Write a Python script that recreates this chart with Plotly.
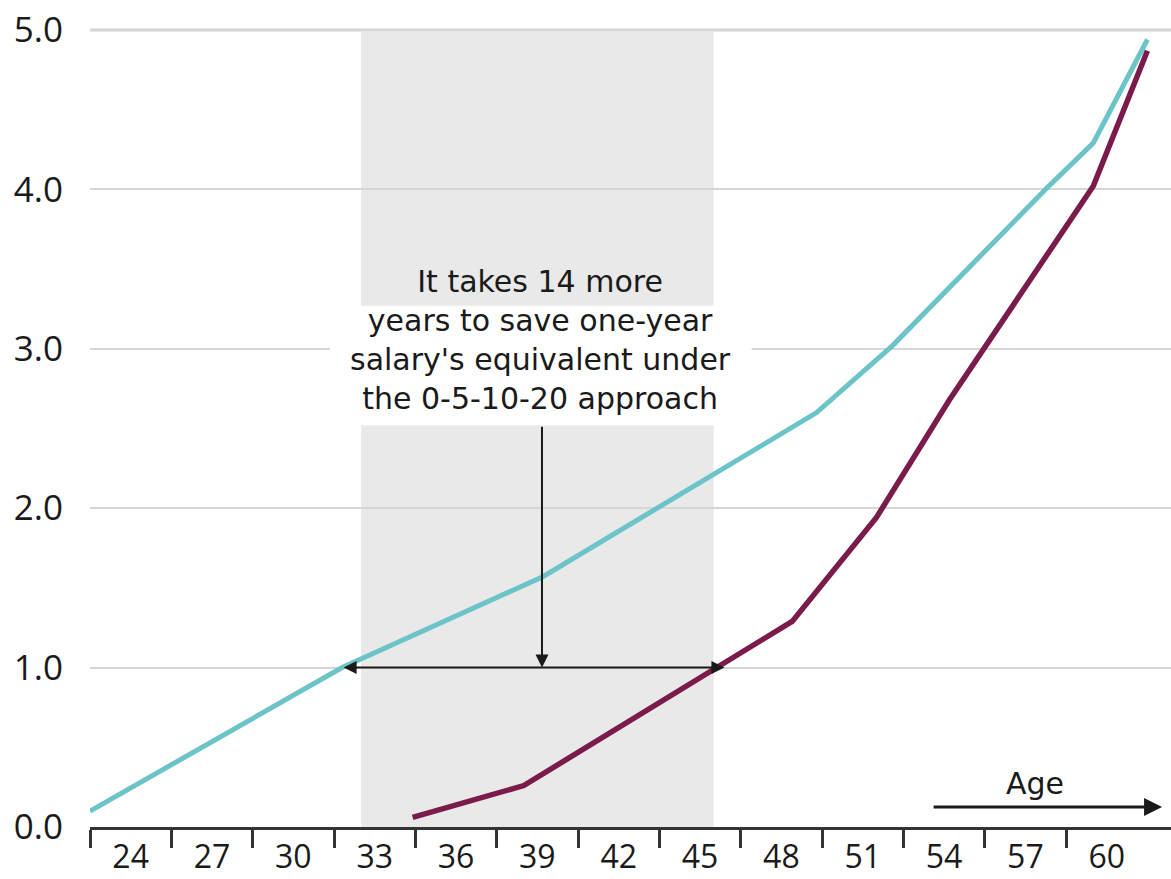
import plotly.graph_objects as go

# Savings as a multiple of annual salary, by age
steady_age = [22.5, 31.8, 39.2, 49.3, 52.1, 57.8, 59.5, 61.5]
steady_val = [0.10, 1.00, 1.57, 2.60, 3.02, 4.01, 4.29, 4.94]

stepped_age = [34.4, 38.5, 48.4, 51.5, 54.2, 59.5, 61.5]
stepped_val = [0.06, 0.26, 1.29, 1.94, 2.68, 4.02, 4.87]

tick_ages = [24, 27, 30, 33, 36, 39, 42, 45, 48, 51, 54, 57, 60]
bin_edges = [22.5, 25.5, 28.5, 31.5, 34.5, 37.5, 40.5, 43.5, 46.5, 49.5, 52.5, 55.5, 58.5]
y_ticks = [0, 1, 2, 3, 4, 5]

highlight_span = (32.5, 45.5)
gap_start, gap_end = 31.8, 45.9
gap_level = 1.0

TEAL = "#6cc4c9"
PLUM = "#7b1b4c"
INK = "#1a1a1a"

fig = go.Figure()

fig.add_trace(go.Scatter(x=steady_age, y=steady_val, mode="lines",
                         line=dict(color=TEAL, width=5), hoverinfo="skip",
                         showlegend=False))
fig.add_trace(go.Scatter(x=stepped_age, y=stepped_val, mode="lines",
                         line=dict(color=PLUM, width=5.5), hoverinfo="skip",
                         showlegend=False))

# shaded band behind the grid
fig.add_shape(type="rect", xref="x", yref="y",
              x0=highlight_span[0], x1=highlight_span[1], y0=0, y1=5,
              fillcolor="#e9e9e9", line_width=0, layer="below")
# white panel behind the note text
fig.add_shape(type="rect", xref="x", yref="y",
              x0=31.35, x1=46.9, y0=2.52, y1=3.27,
              fillcolor="white", line_width=0, layer="between")
# heavier top rule
fig.add_shape(type="line", xref="paper", yref="y", x0=0, x1=1, y0=5, y1=5,
              line=dict(color="#cfcfcf", width=3), layer="between")

# double-headed arrow across the gap
fig.add_annotation(x=gap_end, y=gap_level, ax=gap_start, ay=gap_level,
                   xref="x", yref="y", axref="x", ayref="y", text="",
                   showarrow=True, arrowhead=2, arrowside="end+start",
                   arrowsize=1.3, arrowwidth=2, arrowcolor=INK)
# pointer from the note down to the gap
fig.add_annotation(x=39.17, y=gap_level, ax=39.17, ay=2.52,
                   xref="x", yref="y", axref="x", ayref="y", text="",
                   showarrow=True, arrowhead=2, arrowsize=1.3, arrowwidth=2,
                   arrowcolor=INK)
fig.add_annotation(x=39.13, y=3.055, xref="x", yref="y",
                   text="It takes 14 more<br>years to save one-year<br>"
                        "salary's equivalent under<br>the 0-5-10-20 approach",
                   showarrow=False, xanchor="center", yanchor="middle",
                   align="center",
                   font=dict(family="DejaVu Sans", size=30, color=INK))

# "Age" direction arrow
fig.add_annotation(x=62.04, y=0.125, ax=53.56, ay=0.125,
                   xref="x", yref="y", axref="x", ayref="y", text="",
                   showarrow=True, arrowhead=2, arrowsize=1.2, arrowwidth=3,
                   arrowcolor=INK)
fig.add_annotation(x=57.36, y=0.276, xref="x", yref="y", text="Age",
                   showarrow=False, xanchor="center", yanchor="middle",
                   font=dict(family="DejaVu Sans", size=30, color=INK,
                             shadow="3px 0 0 white, -3px 0 0 white, 0 3px 0 white, 0 -3px 0 white"))

fig.update_layout(
    width=1171, height=879,
    margin=dict(l=90, r=0, t=0, b=52),
    paper_bgcolor="white", plot_bgcolor="white",
    showlegend=False,
    xaxis=dict(
        range=[22.5, 62.37], tickmode="array", tickvals=tick_ages,
        ticktext=[str(a) for a in tick_ages],
        ticks="",
        showgrid=False, zeroline=False, automargin=False,
        showline=True, linecolor="#333333", linewidth=2.5,
        tickfont=dict(family="Open Sans", size=32, color=INK),
        minor=dict(tickmode="array", tickvals=bin_edges, ticks="outside",
                   ticklen=18, tickwidth=2.5, tickcolor="#333333",
                   showgrid=False),
    ),
    yaxis=dict(
        range=[0, 5.188], tickmode="array", tickvals=y_ticks,
        ticktext=[f"{v:.1f}" for v in y_ticks],
        showgrid=True, gridcolor="#d6d6d6", gridwidth=1.5,
        zeroline=False, showline=False, ticks="", automargin=False,
        ticklabelstandoff=26,
        tickfont=dict(family="Open Sans", size=35, color=INK),
    ),
)

fig.write_html("out.html")
